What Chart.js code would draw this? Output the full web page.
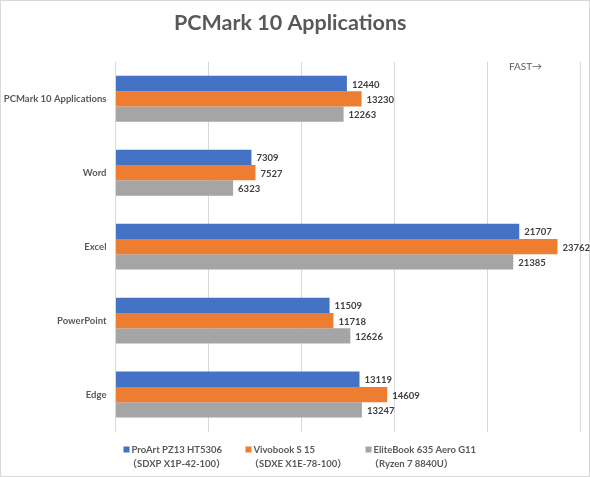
<!DOCTYPE html>
<html>
<head>
<meta charset="utf-8">
<script src="https://cdn.jsdelivr.net/npm/chart.js@4.4.1/dist/chart.umd.min.js"></script>
<style>
  html, body { margin: 0; padding: 0; background: #fff; }
  #wrap { width: 590px; height: 477px; position: relative; }
</style>
</head>
<body>
<div id="wrap"><canvas id="benchChart"></canvas></div>
<script>
// ==========================
// DATA
// ==========================
const categories = ["PCMark 10 Applications", "Word", "Excel", "PowerPoint", "Edge"];
const proartScores = [12440, 7309, 21707, 11509, 13119];
const vivobookScores = [13230, 7527, 23762, 11718, 14609];
const elitebookScores = [12263, 6323, 21385, 12626, 13247];
const seriesNames = [
  ["ProArt PZ13 HT5306", "（SDXP X1P-42-100）"],
  ["Vivobook S 15", "（SDXE X1E-78-100）"],
  ["EliteBook 635 Aero G11", "（Ryzen 7 8840U）"]
];
const xTicks = [0, 5000, 10000, 15000, 20000, 25000];

const FONT = "Lato, 'Noto Sans', 'Noto Sans CJK JP', sans-serif";
const TEXT = "#595959";

// value labels at bar ends
const valueLabels = {
  id: "valueLabels",
  afterDatasetsDraw(chart) {
    const ctx = chart.ctx;
    ctx.save();
    ctx.font = "bold 9.5px " + FONT;
    ctx.fillStyle = "#404040";
    ctx.textAlign = "left";
    ctx.textBaseline = "middle";
    chart.data.datasets.forEach((ds, i) => {
      chart.getDatasetMeta(i).data.forEach((bar, j) => {
        ctx.fillText(ds.data[j], bar.x + 5, bar.y + 1);
      });
    });
    ctx.restore();
  }
};

// FAST-> note, frame and two-line legend
const extras = {
  id: "extras",
  beforeDraw(chart) {
    const ctx = chart.ctx;
    ctx.save();
    ctx.fillStyle = "#fff";
    ctx.fillRect(0, 0, chart.width, chart.height);
    ctx.strokeStyle = "#d9d9d9";
    ctx.lineWidth = 1;
    ctx.strokeRect(0.5, 0.5, chart.width - 1, chart.height - 1);
    ctx.restore();
  },
  afterDraw(chart) {
    const ctx = chart.ctx;
    const area = chart.chartArea;
    ctx.save();
    ctx.fillStyle = TEXT;
    ctx.font = "10px " + FONT;
    ctx.textAlign = "center";
    ctx.textBaseline = "middle";
    ctx.fillText("FAST→", area.right - 55, area.top + 5);

    const cols = [area.left + 8, area.left + 130, area.left + 250];
    const y1 = area.bottom + 18;
    const y2 = y1 + 14;
    ctx.textAlign = "left";
    ctx.font = "bold 9.5px " + FONT;
    chart.data.datasets.forEach((ds, i) => {
      ctx.fillStyle = ds.backgroundColor;
      ctx.fillRect(cols[i], y1 - 3, 6, 6);
      ctx.fillStyle = TEXT;
      ctx.fillText(seriesNames[i][0], cols[i] + 8, y1);
      ctx.fillText(seriesNames[i][1], cols[i] + 4, y2);
    });
    ctx.restore();
  }
};

new Chart(document.getElementById("benchChart"), {
  type: "bar",
  data: {
    labels: categories,
    datasets: [
      { label: seriesNames[0].join(""), data: proartScores, backgroundColor: "#4472C4" },
      { label: seriesNames[1].join(""), data: vivobookScores, backgroundColor: "#ED7D31" },
      { label: seriesNames[2].join(""), data: elitebookScores, backgroundColor: "#A5A5A5" }
    ]
  },
  options: {
    indexAxis: "y",
    responsive: true,
    maintainAspectRatio: false,
    animation: false,
    datasets: {
      bar: { categoryPercentage: 0.62, barPercentage: 1.0 }
    },
    layout: { padding: { left: 0, right: 9.5, top: 0, bottom: 45.5 } },
    plugins: {
      legend: { display: false },
      tooltip: { enabled: false },
      title: {
        display: true,
        text: "PCMark 10 Applications",
        color: TEXT,
        font: { family: FONT, size: 21.5, weight: "bold" },
        padding: { top: 10, bottom: 26 }
      }
    },
    scales: {
      x: {
        min: xTicks[0],
        max: xTicks[xTicks.length - 1],
        afterBuildTicks(scale) {
          scale.ticks = xTicks.map(v => ({ value: v }));
        },
        ticks: { display: false },
        grid: { color: "#d9d9d9", drawTicks: false },
        border: { display: false }
      },
      y: {
        afterFit(scale) { scale.width = 115.5; },
        ticks: {
          color: TEXT,
          padding: 1,
          font: { family: FONT, size: 9.5, weight: "bold" }
        },
        grid: { display: false },
        border: { display: false }
      }
    }
  },
  plugins: [valueLabels, extras]
});
</script>
</body>
</html>
